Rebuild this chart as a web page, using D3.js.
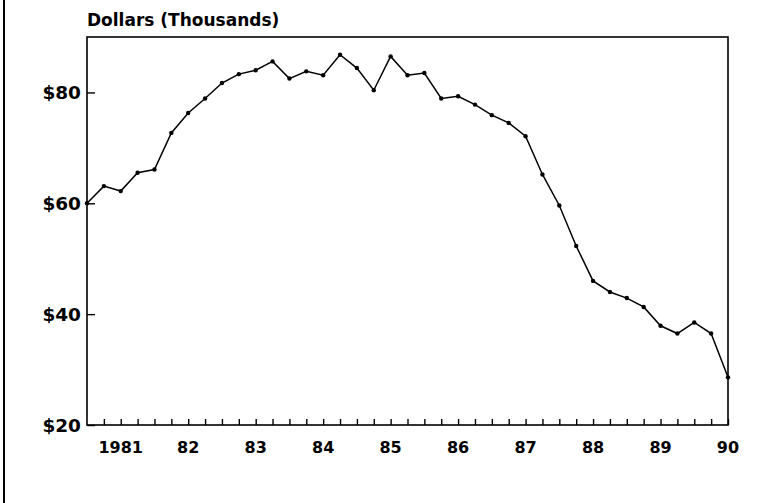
<!DOCTYPE html>
<html>
<head>
<meta charset="utf-8">
<script src="https://cdn.jsdelivr.net/npm/d3@7"></script>
<style>
  body { margin: 0; background: #fff; }
  svg text { font-family: "DejaVu Sans", sans-serif; font-weight: bold; fill: #000; }
</style>
</head>
<body>
<div id="chart"></div>
<script>
var width  = 766;
var height = 503;

// quarterly values, 1980 Q3 .. 1990 Q1 (thousands of dollars)
var startYear = 1980.5;
var values = [
  60.0, 63.1, 62.2, 65.5, 66.1, 72.7, 76.3, 78.9, 81.7, 83.3,
  84.0, 85.6, 82.5, 83.8, 83.1, 86.8, 84.4, 80.4, 86.5, 83.1,
  83.5, 78.9, 79.3, 77.8, 75.9, 74.5, 72.1, 65.2, 59.6, 52.3,
  46.0, 44.0, 42.9, 41.3, 37.9, 36.5, 38.5, 36.5, 28.6
];
var yearTicks  = [1981, 1982, 1983, 1984, 1985, 1986, 1987, 1988, 1989, 1990];
var yearLabels = ["1981", "82", "83", "84", "85", "86", "87", "88", "89", "90"];
var valueTicks = [20, 40, 60, 80];

var points = values.map(function(v, i){ return {t: startYear + i * 0.25, v: v}; });
var quarterTicks = d3.range(0, 38).map(function(i){ return startYear + 0.25 + i * 0.25; });

var plot = {left: 87, right: 728, top: 37, bottom: 425};

var x = d3.scaleLinear().domain([1980.5, 1990]).range([plot.left, plot.right]);
var y = d3.scaleLinear().domain([20, 90]).range([plot.bottom, plot.top]);

var svg = d3.select("#chart").append("svg")
    .attr("width", width)
    .attr("height", height);

// left page edge rule
svg.append("line")
    .attr("x1", 4).attr("y1", 0)
    .attr("x2", 4).attr("y2", height)
    .attr("stroke", "#000")
    .attr("stroke-width", 2);

// frame
svg.append("rect")
    .attr("x", plot.left).attr("y", plot.top)
    .attr("width", plot.right - plot.left)
    .attr("height", plot.bottom - plot.top)
    .attr("fill", "none")
    .attr("stroke", "#000")
    .attr("stroke-width", 1.6);

// x axis: quarter ticks pointing inward, year labels below
var xAxis = svg.append("g")
    .attr("transform", "translate(0," + plot.bottom + ")")
    .call(d3.axisTop(x).tickValues(quarterTicks).tickSize(6).tickFormat(""));
xAxis.select(".domain").remove();
xAxis.selectAll("line").attr("stroke-width", 1.4);

svg.append("g").selectAll("text")
    .data(yearTicks)
    .enter()
  .append("text")
    .attr("x", function(d){ return x(d); })
    .attr("y", plot.bottom + 28)
    .attr("text-anchor", "middle")
    .style("font-size", "16px")
    .text(function(d, i){ return yearLabels[i]; });

// y axis: ticks pointing inward, dollar labels to the left
var yAxis = svg.append("g")
    .attr("transform", "translate(" + plot.left + ",0)")
    .call(d3.axisRight(y).tickValues(valueTicks).tickSize(8).tickFormat(""));
yAxis.select(".domain").remove();
yAxis.selectAll("line").attr("stroke-width", 1.4);

svg.append("g").selectAll("text")
    .data(valueTicks)
    .enter()
  .append("text")
    .attr("x", plot.left - 6)
    .attr("y", function(d){ return y(d); })
    .attr("dy", "0.36em")
    .attr("text-anchor", "end")
    .style("font-size", "18.5px")
    .text(function(d){ return "$" + d; });

// title
svg.append("text")
    .attr("x", plot.left)
    .attr("y", 26)
    .style("font-size", "17px")
    .text("Dollars (Thousands)");

// series line and markers
var line = d3.line()
    .x(function(d){ return x(d.t); })
    .y(function(d){ return y(d.v); });

svg.append("path")
    .datum(points)
    .attr("d", line)
    .attr("fill", "none")
    .attr("stroke", "#000")
    .attr("stroke-width", 1.5);

svg.append("g").selectAll("circle")
    .data(points)
    .enter()
  .append("circle")
    .attr("cx", function(d){ return x(d.t); })
    .attr("cy", function(d){ return y(d.v); })
    .attr("r", 2.2)
    .attr("fill", "#000");
</script>
</body>
</html>
